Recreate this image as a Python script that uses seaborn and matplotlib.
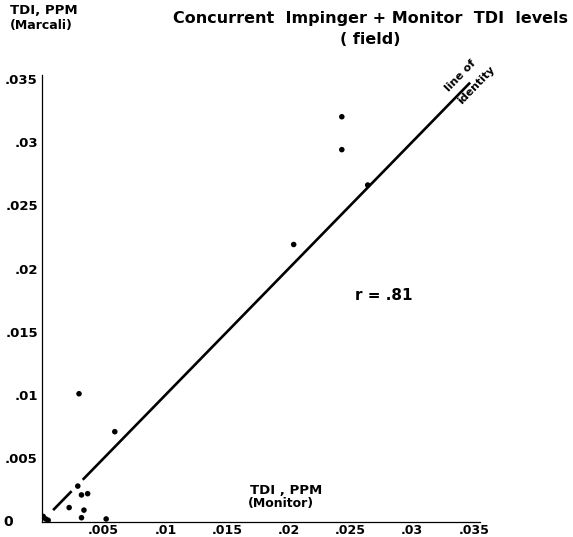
import matplotlib
matplotlib.use("Agg")
import matplotlib.pyplot as plt
import seaborn as sns
import pandas as pd

# Paired TDI readings (ppm): continuous monitor vs. Marcali impinger
monitor_ppm = [0.0243, 0.0243, 0.0264, 0.0204, 0.0059, 0.0030, 0.0029, 0.0032,
               0.0037, 0.0022, 0.0034, 0.0032, 0.0052, 0.0001, 0.0003, 0.0005]
marcali_ppm = [0.0320, 0.0294, 0.0266, 0.0219, 0.0071, 0.0101, 0.0028, 0.0021,
               0.0022, 0.0011, 0.0009, 0.0003, 0.0002, 0.0004, 0.0002, 0.0001]

x_ticks = [0.005, 0.010, 0.015, 0.020, 0.025, 0.030, 0.035]
x_tick_labels = [".005", ".01", ".015", ".02", ".025", ".03", ".035"]
y_ticks = [0.0, 0.005, 0.010, 0.015, 0.020, 0.025, 0.030, 0.035]
y_tick_labels = ["", ".005", ".01", ".015", ".02", ".025", ".03", ".035"]

# y = x drawn in two pieces, broken around the low reading
identity_segments = [(0.0009, 0.0024), (0.0033, 0.0347)]
r_value = ".81"

df = pd.DataFrame({"monitor": monitor_ppm, "marcali": marcali_ppm})

sns.set_theme(style="white")
plt.rcParams["font.family"] = ["DejaVu Sans"]
plt.rcParams["text.color"] = "black"
plt.rcParams["xtick.color"] = "black"
plt.rcParams["ytick.color"] = "black"

W, H = 573, 537
fig = plt.figure(figsize=(W / 100, H / 100), dpi=100)
ax = fig.add_axes([42 / W, 15.5 / H, (480 - 42) / W, (521.5 - 75) / H])


def fx(px):
    return px / W


def fy(py):
    return 1 - py / H


for lo, hi in identity_segments:
    ax.plot([lo, hi], [lo, hi], color="black", lw=1.9, solid_capstyle="butt")

sns.scatterplot(data=df, x="monitor", y="marcali", ax=ax, color="black",
                s=16, edgecolor="none", zorder=3)

ax.set_xlim(0, 0.0355)
ax.set_ylim(0, 0.0353)
ax.set_xticks(x_ticks)
ax.set_xticklabels(x_tick_labels, fontsize=9, fontweight="bold")
ax.set_yticks(y_ticks)
ax.set_yticklabels(y_tick_labels, fontsize=9.5, fontweight="bold")
ax.tick_params(axis="x", length=0, pad=1.5, labelcolor="black")
ax.tick_params(axis="y", length=0, pad=3, labelcolor="black")
ax.set_xlabel("")
ax.set_ylabel("")

for side in ["top", "right"]:
    ax.spines[side].set_visible(False)
for side in ["left", "bottom"]:
    ax.spines[side].set_color("black")
    ax.spines[side].set_linewidth(0.9)

# origin label sits farther out than the other y labels
fig.text(fx(8), fy(522), "0", fontsize=10, fontweight="bold",
         ha="center", va="center")

fig.text(fx(370), fy(18), "Concurrent  Impinger + Monitor  TDI  levels",
         fontsize=11.5, fontweight="bold", ha="center", va="center")
fig.text(fx(370), fy(40), "( field)", fontsize=11.5, fontweight="bold",
         ha="center", va="center")

fig.text(fx(10), fy(11), "TDI, PPM", fontsize=9.5, fontweight="bold",
         ha="left", va="center")
fig.text(fx(10), fy(26), "(Marcali)", fontsize=9, fontweight="bold",
         ha="left", va="center")

fig.text(fx(250), fy(491), "TDI , PPM", fontsize=9.5, fontweight="bold",
         ha="left", va="center")
fig.text(fx(248), fy(504), "(Monitor)", fontsize=9, fontweight="bold",
         ha="left", va="center")

fig.text(fx(384), fy(296), "r = " + r_value, fontsize=11, fontweight="bold",
         ha="center", va="center")

fig.text(fx(461), fy(76), "line of", fontsize=8, fontweight="bold",
         ha="center", va="center", rotation=46, rotation_mode="anchor")
fig.text(fx(476), fy(85), "identity", fontsize=8, fontweight="bold",
         ha="center", va="center", rotation=46, rotation_mode="anchor")

fig.savefig("out.png", dpi=100)
